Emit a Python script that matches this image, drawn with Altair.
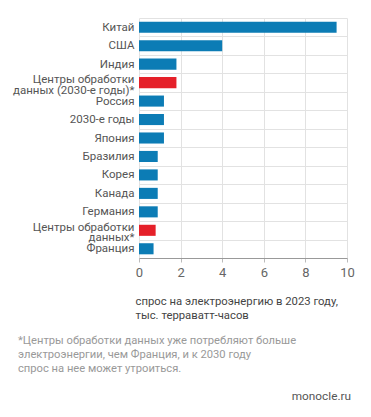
import altair as alt
import pandas as pd

categories = ["Китай", "США", "Индия", "Центры обработки|данных (2030-е годы)*",
              "Россия", "2030-е годы", "Япония", "Бразилия", "Корея", "Канада",
              "Германия", "Центры обработки|данных*", "Франция"]
values = [9.5, 4.0, 1.8, 1.8, 1.2, 1.2, 1.2, 0.9, 0.9, 0.9, 0.9, 0.8, 0.7]
groups = ["country", "country", "country", "dc", "country", "country", "country",
          "country", "country", "country", "country", "dc", "country"]
x_ticks = [0, 2, 4, 6, 8, 10]
x_title = ["спрос на электроэнергию в 2023 году,", "тыс. терраватт-часов"]
footnote = ["*Центры обработки данных уже потребляют больше",
            "электроэнергии, чем Франция, и к 2030 году",
            "спрос на нее может утроиться."]
credit = ["monocle.ru"]

FONT = "Roboto"
GRID = "#e2e2e2"

df = pd.DataFrame({"cat": categories, "value": values, "group": groups})

bars = alt.Chart(df).mark_bar(height={"band": 0.6}).encode(
    y=alt.Y("cat:N", sort=categories,
            scale=alt.Scale(paddingInner=0, paddingOuter=0),
            axis=alt.Axis(title=None, labelExpr="split(datum.label, '|')",
                          tickBand="extent", grid=True, gridColor=GRID,
                          ticks=False, domain=False, labelColor="#555",
                          labelFontSize=11.5, labelFont=FONT, labelPadding=5,
                          labelLineHeight=10.5, labelLimit=250,
                          labelBaseline="middle",
                          labelOffset={"condition": {"test": "indexof(datum.label, '|') >= 0",
                                                     "value": -3},
                                       "value": 0})),
    x=alt.X("value:Q", scale=alt.Scale(domain=[0, 10], nice=False),
            axis=alt.Axis(values=x_ticks, title=x_title, titleAnchor="start",
                          titleAlign="left", titleX=-4, titleY=46,
                          titleBaseline="alphabetic", titleFontWeight="normal",
                          titleColor="#444", titleFontSize=11.3, titleLineHeight=14,
                          titleFont=FONT, labelFontSize=13, labelColor="#666",
                          labelFont=FONT, gridColor=GRID, domainColor="#999",
                          tickColor="#bbb", tickSize=4, labelPadding=4,
                          labelFlush=False)),
    color=alt.Color("group:N",
                    scale=alt.Scale(domain=["country", "dc"],
                                    range=["#0c7cb5", "#e52029"]),
                    legend=None),
)

foot = alt.Chart(pd.DataFrame({"t": ["\n".join(footnote)]})).mark_text(
    align="left", baseline="alphabetic", font=FONT, fontSize=11.2,
    color="#999", lineBreak="\n", lineHeight=14,
).encode(text="t:N", x=alt.value(-121), y=alt.value(326))

cred = alt.Chart(pd.DataFrame({"t": credit})).mark_text(
    align="right", baseline="alphabetic", font=FONT, fontSize=11.8, color="#555",
).encode(text="t:N", x=alt.value(212), y=alt.value(382))

chart = alt.layer(bars, foot, cred).properties(
    width=208, height=240,
    autosize=alt.AutoSizeParams(type="none"),
    padding={"left": 131, "top": 10, "right": 16, "bottom": 150},
).configure_view(stroke=None)

chart.save("out.html", embed_options={"renderer": "svg", "actions": False})
